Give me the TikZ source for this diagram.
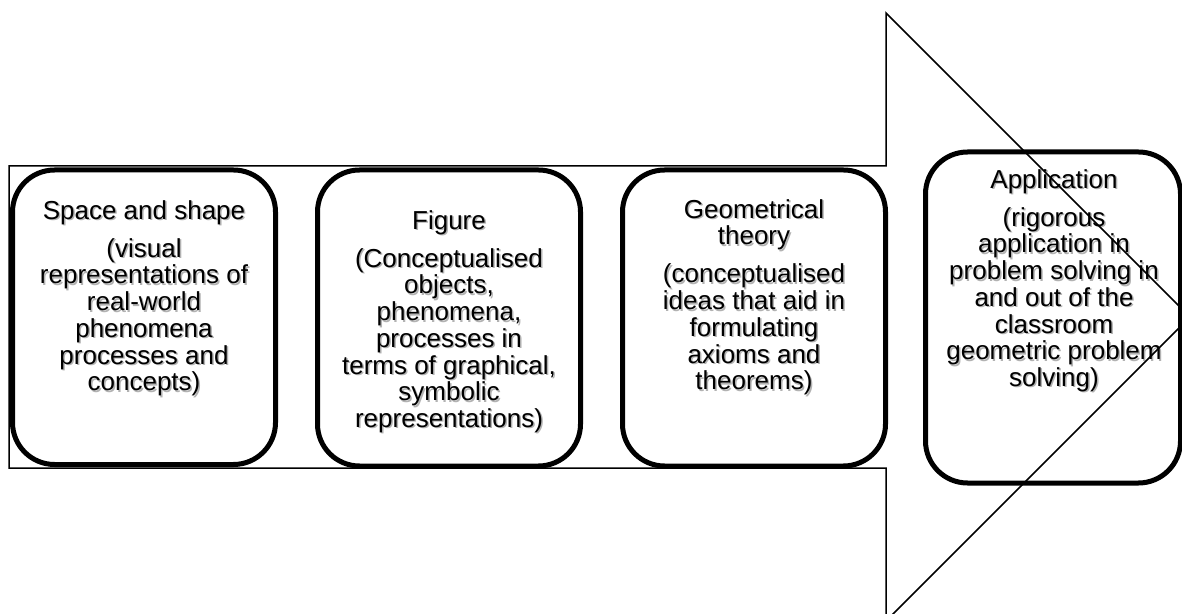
\documentclass[tikz,border=0pt]{standalone}
\usepackage{fontspec}
\setmainfont{Liberation Sans}
\begin{document}
\begin{tikzpicture}[x=0.5pt,y=-0.5pt,
  box/.style={draw=black, line width=2.5pt, rounded corners=21pt, fill=white, inner sep=0pt},
  txt/.style={font={\fontsize{13}{13.35}\selectfont\lineskiplimit=-20pt\lineskip=0pt}, align=center, anchor=north, inner sep=0pt, text=black},
  shd/.style={txt, text=black!30},
  arrowline/.style={draw=black, line width=0.75pt, line join=miter}]
\useasboundingbox (0,0) rectangle (1182,614);
\newcommand\txtA{Space and shape\\[5.65pt](visual\\representations of\\real-world\\phenomena\\processes and\\concepts)}
\newcommand\txtB{Figure\\[5.65pt](Conceptualised\\objects,\\phenomena,\\processes in\\terms of graphical,\\symbolic\\representations)}
\newcommand\txtC{Geometrical\\theory\\[5.65pt](conceptualised\\ideas that aid in\\formulating\\axioms and\\theorems)}
\newcommand\txtD{Application\\[5.65pt](rigorous\\application in\\problem solving in\\and out of the\\classroom\\geometric problem\\solving)}
% boxes
\node[box, minimum width=131.5pt, minimum height=147.25pt] (b1) at (144,317.25) {};
\node[box, minimum width=131.5pt, minimum height=148pt] (b2) at (449,318) {};
\node[box, minimum width=131.5pt, minimum height=148pt] (b3) at (754,318) {};
\node[box, minimum width=127.5pt, minimum height=165.5pt] (b4) at (1053,317.5) {};
% text shadows
\node[shd] (s1) at (145.5,201.5) {\txtA};
\node[shd] (s2) at (450.5,211.5) {\txtB};
\node[shd] (s3) at (755.5,200.5) {\txtC};
\node[shd] (s4) at (1055.5,170.5) {\txtD};
% text
\node[txt] (t1) at (144,200) {\txtA};
\node[txt] (t2) at (449,210) {\txtB};
\node[txt] (t3) at (754,199) {\txtC};
\node[txt] (t4) at (1054,169) {\txtD};
% big arrow outline
\begin{scope}
\clip (0,0) rectangle (1182,614);
\draw[arrowline] (9,166) -- (886,166) -- (886,13) -- (1190,317) -- (886,621) -- (886,468) -- (9,468) -- cycle;
\end{scope}
\end{tikzpicture}
\end{document}
